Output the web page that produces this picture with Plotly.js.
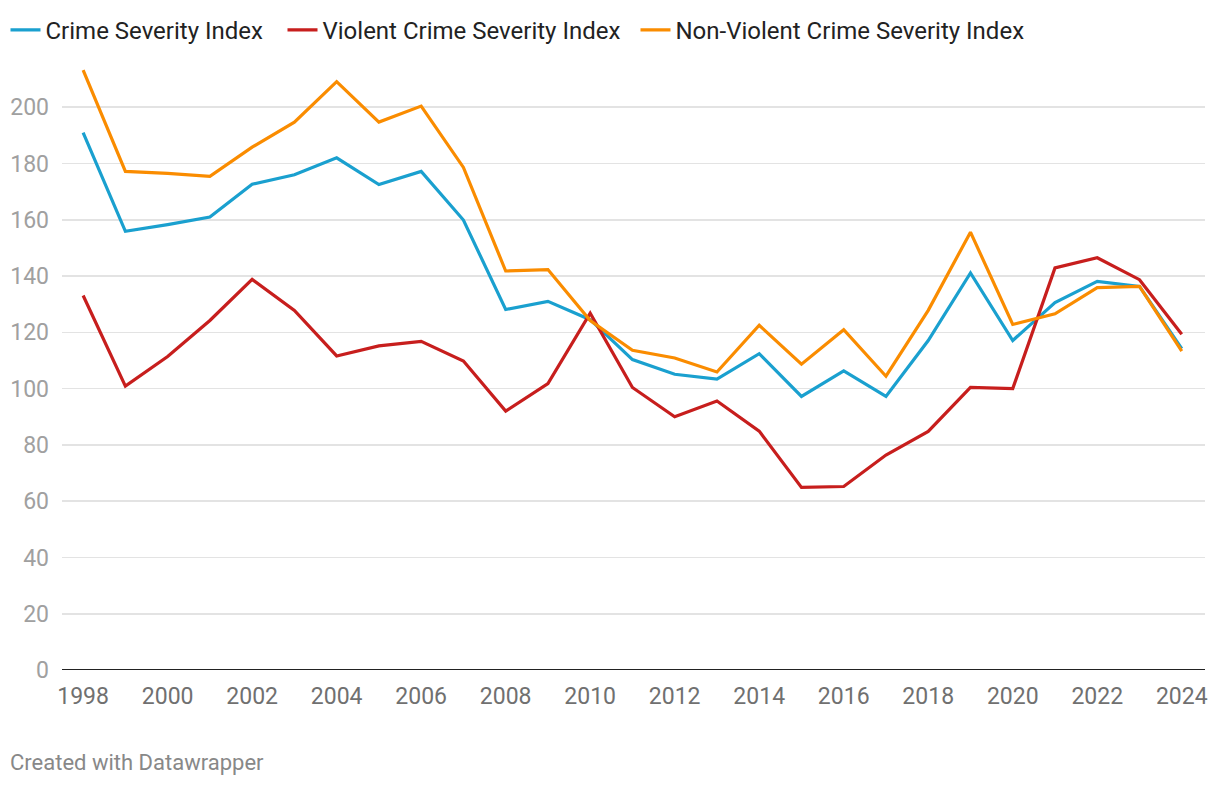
<!DOCTYPE html>
<html>
<head>
<meta charset="utf-8">
<script src="https://cdn.plot.ly/plotly-3.0.1.min.js"></script>
<style>
html,body{margin:0;padding:0;background:#fff;}
#chart{width:1220px;height:786px;}
</style>
</head>
<body>
<div id="chart"></div>
<script>
const years = [1998,1999,2000,2001,2002,2003,2004,2005,2006,2007,2008,2009,2010,2011,2012,2013,2014,2015,2016,2017,2018,2019,2020,2021,2022,2023,2024];
const crimeSeverity = [191.0,155.9,158.3,161.0,172.6,176.0,182.0,172.5,177.2,159.9,128.1,131.0,124.5,110.3,105.1,103.4,112.4,97.2,106.3,97.2,117.1,141.1,117.1,130.6,138.1,136.3,114.2];
const violentSeverity = [133.1,100.9,111.4,124.2,138.8,127.8,111.6,115.2,116.8,109.8,92.0,101.8,126.8,100.4,90.0,95.6,84.9,64.9,65.2,76.4,84.8,100.4,100.0,142.9,146.5,138.7,119.3];
const nonViolentSeverity = [213.2,177.2,176.5,175.4,185.8,194.7,209.1,194.7,200.4,178.6,141.8,142.3,124.2,113.6,110.9,105.9,122.5,108.7,120.9,104.4,127.8,155.6,122.8,126.6,135.9,136.3,113.3];
const seriesNames = ["Crime Severity Index","Violent Crime Severity Index","Non-Violent Crime Severity Index"];
const seriesColors = ["#1aa0cf","#c71e1d","#fa8c00"];
const xTicks = [1998,2000,2002,2004,2006,2008,2010,2012,2014,2016,2018,2020,2022,2024];
const yTicks = [0,20,40,60,80,100,120,140,160,180,200];

const legendIds = ['legend','legend2','legend3'];
const allSeries = [crimeSeverity, violentSeverity, nonViolentSeverity];
const traces = allSeries.map((vals,i)=>({
  x: years, y: vals, type:'scatter', mode:'lines', name: seriesNames[i],
  line:{color: seriesColors[i], width:3.2}, hoverinfo:'x+y', legend: legendIds[i]
}));

function legendAt(px){
  return {orientation:'h', xref:'container', x:px/1220, xanchor:'left', y:0.99, yref:'container', yanchor:'top',
    font:{size:24, color:'#222'}, itemwidth:30, bgcolor:'rgba(0,0,0,0)'};
}

const layout = {
  width:1220, height:786,
  margin:{l:62, r:15, t:65, b:116},
  paper_bgcolor:'#fff', plot_bgcolor:'#fff',
  font:{family:'Roboto, sans-serif'},
  showlegend:true,
  legend: legendAt(5.5),
  legend2: legendAt(282.5),
  legend3: legendAt(635.5),
  xaxis:{range:[1997.5,2024.55], tickvals:xTicks, ticktext:xTicks.map(String),
    showgrid:false, zeroline:false, showline:false, ticks:'', 
    tickfont:{size:23, color:'#707070'}, ticklabelstandoff:10, fixedrange:true},
  yaxis:{range:[0,215], tickvals:yTicks, ticktext:yTicks.map(String),
    showgrid:true, gridcolor:'#e3e3e3', gridwidth:1.6, zeroline:false, showline:false, ticks:'',
    tickfont:{size:23, color:'#a0a0a0'}, ticklabelstandoff:12, fixedrange:true},
  shapes:[{type:'line', xref:'paper', yref:'y', x0:0, x1:1, y0:0, y1:0, line:{color:'#222', width:2}}],
  annotations:[{text:'Created with Datawrapper', xref:'paper', yref:'paper', x:0, y:0,
    xanchor:'left', yanchor:'middle', showarrow:false, xshift:-54, yshift:-92,
    font:{size:22, color:'#888'}}]
};
Plotly.newPlot('chart', traces, layout, {displayModeBar:false, staticPlot:true});
</script>
</body>
</html>
